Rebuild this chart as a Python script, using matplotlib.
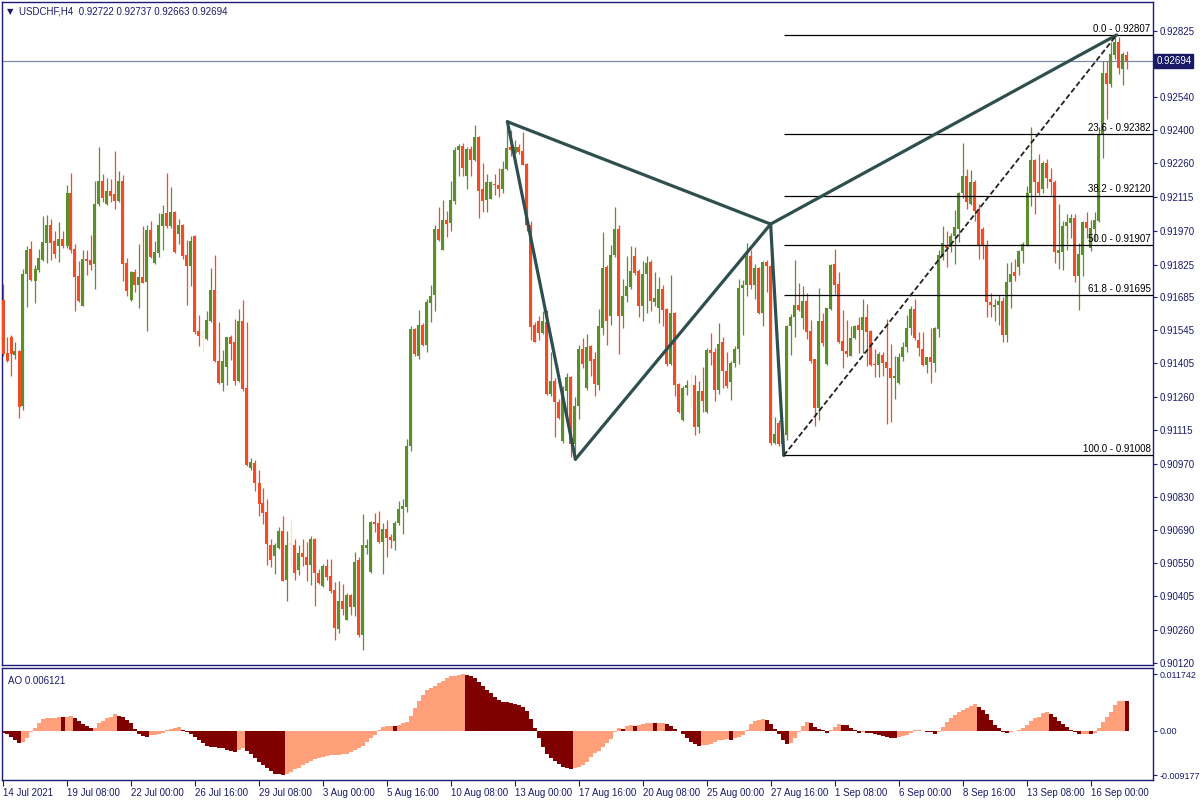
import numpy as np
import matplotlib
matplotlib.use("Agg")
import matplotlib.pyplot as plt
from matplotlib.transforms import blended_transform_factory

plt.rcParams['font.family'] = ['Liberation Sans', 'DejaVu Sans']

# ---------------- data (prices in 1e-5 units) ----------------
header_text = "USDCHF,H4  0.92722 0.92737 0.92663 0.92694"

opens_pts = [
    91673, 91446, 91513, 91439, 91453, 91219, 91786, 91891, 91755, 91800,
    91846, 91918, 91993, 91924, 91904, 91933, 91904, 92131, 91891, 91775,
    91648, 91847, 91844, 91827, 92084, 92182, 92085, 92140, 92127, 92098,
    92182, 91831, 91673, 91793, 91737, 91771, 91751, 91973, 91831, 91875,
    91989, 92045, 91989, 92049, 91956, 91993, 91866, 91818, 91949, 91540,
    91513, 91508, 91582, 91715, 91413, 91317, 91386, 91517, 91493, 91328,
    91582, 91295, 90954, 90974, 90892, 90803, 90765, 90627, 90578, 90614,
    90683, 90474, 90627, 90623, 90518, 90589, 90573, 90538, 90651, 90505,
    90451, 90536, 90491, 90433, 90266, 90387, 90306, 90409, 90360, 90560,
    90238, 90614, 90509, 90723, 90718, 90638, 90692, 90660, 90642, 90718,
    90781, 90787, 91047, 91548, 91435, 91568, 91482, 91662, 91693, 91976,
    91889, 92015, 92004, 92098, 92314, 92334, 92203, 92321, 92272, 92370,
    92147, 92102, 92107, 92171, 92165, 92147, 92234, 92329, 92303, 92329,
    92312, 92256, 91995, 91568, 91582, 91531, 91580, 91272, 91326, 91235,
    91068, 91286, 91344, 91059, 91219, 91462, 91295, 91477, 91419, 91310,
    91555, 91813, 91604, 91867, 91976, 91604, 91691, 91728, 91860, 91798,
    91646, 91786, 91835, 91664, 91640, 91722, 91635, 91399, 91619, 91314,
    91159, 91295, 91301, 91308, 91132, 91283, 91196, 91459, 91450, 91290,
    91495, 91368, 91323, 91404, 91464, 91726, 91737, 91862, 91737, 91809,
    91619, 91835, 91817, 91063, 91145, 91056, 91096, 91564, 91599, 91650,
    91595, 91668, 91540, 91419, 91210, 91582, 91401, 91635, 91827, 91740,
    91499, 91457, 91435, 91510, 91568, 91546, 91600, 91540, 91399, 91395,
    91437, 91408, 91383, 91341, 91319, 91428, 91473, 91555, 91635, 91504,
    91464, 91395, 91428, 91404, 91550, 91858, 91907, 91898, 91946, 91976,
    92131, 92203, 92085, 92180, 92058, 91976, 91907, 91664, 91644, 91650,
    91668, 91522, 91749, 91795, 91813, 91882, 91907, 92131, 92271, 92180,
    92149, 92258, 92191, 92180, 91873, 91877, 91991, 92004, 92022, 91777,
    91867, 92009, 91895, 91976, 92013, 92379, 92645, 92599, 92721, 92775,
    92661, 92722]

highs_pts = [
    91740, 91513, 91522, 91495, 91459, 91807, 91904, 91927, 91822, 91891,
    92034, 92036, 92020, 91967, 92009, 91967, 92167, 92216, 91913, 91840,
    91886, 91886, 91953, 92182, 92327, 92212, 92194, 92191, 92312, 92227,
    92209, 91855, 91798, 91804, 91913, 91989, 91995, 92013, 91927, 92044,
    92080, 92216, 92156, 92053, 92018, 92000, 91931, 91949, 91953, 91608,
    91544, 91626, 91809, 91866, 91579, 91459, 91517, 91522, 91591, 91633,
    91673, 91579, 90999, 90987, 90945, 90867, 90820, 90651, 90633, 90700,
    90747, 90683, 90738, 90651, 90623, 90651, 90638, 90665, 90654, 90524,
    90545, 90565, 90564, 90465, 90473, 90460, 90420, 90415, 90596, 90573,
    90756, 90651, 90729, 90760, 90772, 90718, 90732, 90674, 90727, 90814,
    90820, 91077, 91564, 91555, 91631, 91573, 91677, 91737, 91995, 92073,
    92100, 92054, 92182, 92327, 92340, 92343, 92327, 92331, 92421, 92376,
    92260, 92212, 92182, 92212, 92236, 92267, 92412, 92399, 92358, 92340,
    92390, 92261, 92013, 91577, 91604, 91628, 91631, 91450, 91341, 91250,
    91304, 91359, 91350, 91259, 91482, 91510, 91526, 91482, 91450, 91635,
    91964, 91822, 91907, 92071, 91995, 91762, 91860, 91904, 91900, 91804,
    91840, 91862, 91844, 91795, 91771, 91737, 91640, 91780, 91622, 91317,
    91304, 91332, 91359, 91354, 91326, 91386, 91468, 91531, 91468, 91573,
    91513, 91450, 91413, 91477, 91762, 91758, 91916, 91889, 91827, 91813,
    91840, 91846, 91998, 91172, 91159, 91105, 91568, 91613, 91846, 91744,
    91731, 91704, 91586, 91422, 91726, 91619, 91640, 91827, 91891, 91795,
    91631, 91586, 91564, 91568, 91600, 91677, 91655, 91546, 91462, 91450,
    91450, 91591, 91486, 91432, 91446, 91495, 91610, 91646, 91677, 91535,
    91535, 91428, 91555, 91559, 91886, 91989, 91967, 91962, 92058, 92134,
    92345, 92234, 92231, 92185, 92085, 91985, 91931, 91704, 91677, 91695,
    91686, 91831, 91835, 91849, 91886, 91922, 92162, 92412, 92276, 92300,
    92267, 92276, 92240, 92185, 92085, 92013, 92040, 92040, 92040, 91918,
    92013, 92049, 92016, 92049, 92412, 92694, 92694, 92775, 92807, 92797,
    92735, 92737]

lows_pts = [
    91435, 91410, 91346, 91422, 91168, 91201, 91644, 91753, 91662, 91795,
    91840, 91831, 91846, 91851, 91836, 91896, 91895, 91873, 91626, 91664,
    91646, 91780, 91800, 91722, 92074, 92094, 92080, 92091, 92062, 92094,
    91753, 91689, 91669, 91708, 91637, 91744, 91542, 91853, 91827, 91858,
    91889, 91982, 91982, 91875, 91913, 91849, 91653, 91735, 91528, 91477,
    91450, 91504, 91577, 91410, 91314, 91285, 91308, 91417, 91308, 91323,
    91283, 90963, 90945, 90856, 90749, 90714, 90538, 90533, 90502, 90609,
    90469, 90384, 90533, 90474, 90496, 90536, 90469, 90455, 90366, 90460,
    90447, 90474, 90420, 90219, 90247, 90324, 90302, 90324, 90320, 90233,
    90175, 90587, 90505, 90682, 90633, 90502, 90574, 90611, 90602, 90711,
    90674, 90765, 91028, 91435, 91422, 91477, 91450, 91580, 91626, 91927,
    91886, 91944, 91967, 92085, 92203, 92203, 92149, 92203, 92267, 92022,
    92049, 92049, 92104, 92122, 92113, 92131, 92231, 92290, 92300, 92300,
    92249, 91967, 91504, 91493, 91504, 91526, 91268, 91264, 91087, 91165,
    91063, 91168, 91000, 91014, 91165, 91383, 91290, 91346, 91263, 91290,
    91522, 91482, 91568, 91858, 91441, 91555, 91664, 91722, 91780, 91600,
    91582, 91617, 91628, 91646, 91573, 91564, 91392, 91395, 91264, 91190,
    91154, 91268, 91214, 91096, 91105, 91192, 91190, 91395, 91241, 91272,
    91295, 91295, 91246, 91386, 91401, 91522, 91689, 91722, 91677, 91613,
    91562, 91708, 91054, 91059, 91047, 91008, 91074, 91437, 91513, 91628,
    91550, 91508, 91404, 91136, 91159, 91477, 91395, 91631, 91700, 91490,
    91381, 91428, 91432, 91508, 91446, 91446, 91392, 91392, 91344, 91344,
    91346, 91141, 91150, 91250, 91314, 91413, 91450, 91522, 91501, 91435,
    91392, 91359, 91319, 91364, 91513, 91846, 91813, 91880, 91827, 91922,
    92109, 92064, 92080, 92013, 91849, 91849, 91599, 91599, 91582, 91568,
    91495, 91495, 91640, 91753, 91782, 91831, 91904, 92076, 92040, 92122,
    92131, 92153, 92122, 91831, 91804, 91800, 91886, 91940, 91749, 91631,
    91777, 91940, 91882, 91927, 92007, 92281, 92448, 92585, 92706, 92639,
    92594, 92663]

closes_pts = [
    91441, 91413, 91441, 91453, 91214, 91786, 91886, 91758, 91807, 91853,
    91920, 91993, 91918, 91869, 91933, 91904, 92131, 91889, 91773, 91668,
    91847, 91842, 91822, 92084, 92182, 92109, 92140, 92118, 92098, 92182,
    91827, 91711, 91793, 91737, 91771, 91746, 91973, 91858, 91878, 91993,
    92040, 91991, 92049, 91880, 91993, 91860, 91818, 91927, 91537, 91519,
    91513, 91586, 91715, 91413, 91317, 91412, 91513, 91486, 91328, 91582,
    91292, 90969, 90978, 90890, 90800, 90760, 90629, 90560, 90623, 90683,
    90473, 90627, 90627, 90505, 90589, 90574, 90538, 90651, 90505, 90464,
    90536, 90487, 90427, 90269, 90387, 90351, 90409, 90360, 90554, 90238,
    90623, 90623, 90723, 90714, 90638, 90692, 90654, 90647, 90720, 90781,
    90790, 91047, 91548, 91441, 91568, 91482, 91664, 91689, 91976, 91931,
    92015, 92000, 92100, 92314, 92331, 92236, 92321, 92272, 92370, 92140,
    92098, 92176, 92176, 92165, 92147, 92234, 92325, 92316, 92327, 92307,
    92252, 91995, 91559, 91495, 91531, 91582, 91272, 91326, 91235, 91168,
    91295, 91344, 91059, 91219, 91462, 91401, 91471, 91413, 91314, 91562,
    91809, 91582, 91867, 91976, 91604, 91691, 91731, 91798, 91789, 91646,
    91786, 91831, 91671, 91682, 91722, 91631, 91399, 91619, 91308, 91196,
    91295, 91308, 91301, 91132, 91283, 91241, 91459, 91446, 91290, 91486,
    91368, 91304, 91404, 91464, 91726, 91737, 91862, 91737, 91809, 91619,
    91835, 91817, 91063, 91099, 91056, 91101, 91564, 91600, 91650, 91631,
    91668, 91535, 91413, 91210, 91582, 91490, 91637, 91822, 91737, 91495,
    91453, 91441, 91510, 91564, 91546, 91600, 91537, 91395, 91395, 91441,
    91404, 91381, 91341, 91346, 91428, 91473, 91555, 91635, 91510, 91468,
    91395, 91428, 91408, 91553, 91867, 91918, 91895, 91946, 91985, 92131,
    92203, 92094, 92176, 92053, 91904, 91907, 91664, 91650, 91653, 91668,
    91522, 91749, 91786, 91777, 91882, 91913, 92131, 92271, 92176, 92131,
    92258, 92194, 92176, 91880, 91886, 91991, 92009, 92022, 91777, 91871,
    92009, 91980, 91980, 92016, 92379, 92645, 92599, 92725, 92775, 92666,
    92725, 92694]

# Awesome Oscillator values (1e-5 units)
ao_pts = [
    -41, -55, -131, -180, -249, -235, -152, -14, 69, 159,
    242, 263, 269, 276, 290, 287, 297, 301, 263, 207,
    152, 97, 55, 69, 159, 207, 263, 290, 346, 318,
    283, 228, 159, 41, -62, -97, -131, -90, -83, -55,
    -35, 21, 48, 62, 76, 14, -28, -62, -117, -193,
    -256, -304, -325, -339, -346, -359, -387, -408, -442, -401,
    -359, -408, -484, -567, -636, -705, -774, -822, -884, -898,
    -918, -884, -843, -795, -760, -712, -670, -629, -587, -553,
    -539, -518, -504, -498, -494, -484, -477, -442, -394, -359,
    -311, -235, -152, -83, 14, 76, 97, 104, 97, 124,
    159, 193, 318, 470, 622, 746, 843, 891, 940, 988,
    1030, 1092, 1133, 1147, 1168, 1174, 1154, 1133, 1106, 1023,
    940, 850, 781, 698, 636, 601, 594, 580, 560, 539,
    491, 415, 242, 55, -152, -339, -484, -567, -622, -684,
    -746, -774, -788, -774, -746, -705, -636, -539, -463, -415,
    -339, -256, -166, -28, 55, 48, 97, 117, 97, 117,
    138, 159, 166, 162, 166, 169, 138, 97, 41, -7,
    -69, -152, -228, -276, -311, -290, -283, -263, -228, -193,
    -180, -173, -187, -152, -117, -90, 28, 138, 207, 228,
    242, 238, 138, 48, -69, -187, -276, -256, -152, -28,
    111, 180, 173, 90, 41, 21, -35, 14, 90, 138,
    117, 114, 69, 14, -35, -31, -41, -45, -55, -76,
    -104, -124, -145, -149, -131, -104, -76, -41, 14, 17,
    7, -21, -28, -62, -14, 76, 180, 263, 332, 387,
    442, 484, 525, 553, 504, 428, 346, 221, 117, 55,
    -14, -41, -28, -7, 28, 69, 124, 200, 263, 297,
    366, 394, 346, 290, 214, 138, 76, 14, -14, -62,
    -59, -55, -62, -35, 55, 180, 283, 400, 540, 612,
    632, 612]
ao_label = "AO 0.006121"

date_labels = ["14 Jul 2021", "19 Jul 08:00", "22 Jul 00:00", "26 Jul 16:00",
               "29 Jul 08:00", "3 Aug 00:00", "5 Aug 16:00", "10 Aug 08:00",
               "13 Aug 00:00", "17 Aug 16:00", "20 Aug 08:00", "25 Aug 00:00",
               "27 Aug 16:00", "1 Sep 08:00", "6 Sep 00:00", "8 Sep 16:00",
               "13 Sep 08:00", "16 Sep 00:00"]
date_bar_index = [0, 16, 32, 48, 64, 80, 96, 112, 128, 144, 160, 176,
                  192, 208, 224, 240, 256, 272]

price_ticks = [0.92825, 0.92540, 0.92400, 0.92260, 0.92115, 0.91970,
               0.91825, 0.91685, 0.91545, 0.91405, 0.91260, 0.91115,
               0.90970, 0.90830, 0.90690, 0.90550, 0.90405, 0.90260, 0.90120]
ao_ticks = [0.011742, 0.0, -0.009177]
ao_tick_labels = ["0.011742", "0.00", "-0.009177"]

current_price = 0.92694

fib_ratio_labels = ["0.0", "23.6", "38.2", "50.0", "61.8", "100.0"]
fib_prices = [0.92807, 0.92382, 0.92120, 0.91907, 0.91695, 0.91008]

# harmonic pattern points X, A, B, C, D (bar index, price)
pattern_idx = [126.1, 143.1, 191.9, 195.2, 278.4]
pattern_price = [0.92436, 0.90992, 0.91998, 0.91008, 0.92807]
pattern_segments = [(0, 1), (1, 2), (2, 3), (0, 2), (2, 4)]

# ---------------- styling ----------------
UP = "#5b8f2a"
DOWN = "#f24c25"
DOJI = "#fbe1d1"
AO_UP = "#ffa07a"
AO_DOWN = "#800000"
FRAME = "#1c1c78"
TXT = "#1a1a6a"
PATTERN = "#2f4f4f"

W, H = 1200, 800
fig = plt.figure(figsize=(12, 8), dpi=100)
ax = fig.add_axes([2 / W, 1 - 665 / H, 1151 / W, 663 / H])
ax2 = fig.add_axes([2 / W, 1 - 780 / H, 1151 / W, 112 / H])

o = np.array(opens_pts) / 1e5
h = np.array(highs_pts) / 1e5
l = np.array(lows_pts) / 1e5
c = np.array(closes_pts) / 1e5
n = len(o)
idx = np.arange(n)

px = 0.0000428  # price per pixel
colors = [UP if cc > oo else (DOWN if cc < oo else DOJI) for oo, cc in zip(o, c)]

ax.vlines(idx, l, h, colors=colors, linewidth=0.9, zorder=2)
body_bottom = np.minimum(o, c)
body_h = np.maximum(np.abs(c - o), px * 1.2)
ax.bar(idx, body_h, bottom=body_bottom, width=0.75, color=colors,
       linewidth=0, zorder=3)

ax.set_xlim(-0.25, 287.5)
ax.set_ylim(0.901116, 0.929482)

# current price line
ax.axhline(current_price, color="#7a8aa0", linewidth=0.9, zorder=1)

# fibonacci levels
x_fib0 = pattern_idx[3]
ax.hlines(fib_prices, x_fib0, 287.5, colors="black", linewidth=0.9, zorder=4)
for lab, p in zip(fib_ratio_labels, fib_prices):
    ax.text(286.9, p + px * 1.2, f"{lab} - {p:.5f}", ha="right", va="bottom",
            fontsize=7, color="black", zorder=6)

# pattern lines
for a, b in pattern_segments:
    ax.plot([pattern_idx[a], pattern_idx[b]],
            [pattern_price[a], pattern_price[b]],
            color=PATTERN, linewidth=2.3, solid_capstyle="round", zorder=5)
# fibonacci trend line (dashed)
ax.plot([pattern_idx[3], pattern_idx[4]], [pattern_price[3], pattern_price[4]],
        color="#222222", linewidth=1.3, linestyle=(0, (3, 1.5)), zorder=5)

# axes styling main
ax.yaxis.tick_right()
ax.set_yticks(price_ticks)
ax.set_yticklabels([f"{t:.5f}" for t in price_ticks])
ax.tick_params(axis="y", length=3, width=0.8, color=FRAME, labelsize=7,
               labelcolor=TXT, pad=2)
ax.set_xticks([])
for sp in ax.spines.values():
    sp.set_color(FRAME)
    sp.set_linewidth(1.0)

# header
ax.text(0.0045, 0.986, "\u25bc", transform=ax.transAxes, fontsize=6,
        color=TXT, va="center", ha="left", family=["DejaVu Sans"])
ax.text(0.0145, 0.986, header_text, transform=ax.transAxes, fontsize=7,
        color=TXT, va="center", ha="left")

# current price label
tr = blended_transform_factory(ax.transAxes, ax.transData)
ax.text(1.0028, current_price, f"{current_price:.5f}", transform=tr,
        fontsize=7, color="white", va="center", ha="left", zorder=10,
        clip_on=False,
        bbox=dict(boxstyle="square,pad=0.2", fc="#191966", ec="#191966"))

# ---------------- AO panel ----------------
ao = np.array(ao_pts) / 1e5
ao_colors = [AO_DOWN] + [AO_UP if ao[i] > ao[i - 1] else AO_DOWN
                         for i in range(1, len(ao))]
ax2.bar(np.arange(len(ao)), ao, width=1.0, color=ao_colors, linewidth=0)
ax2.set_xlim(-0.25, 287.5)
ax2.set_ylim(-0.01016, 0.01306)
ax2.yaxis.tick_right()
ax2.set_yticks(ao_ticks)
ax2.set_yticklabels(ao_tick_labels)
ax2.tick_params(axis="y", length=3, width=0.8, color=FRAME, labelsize=6.5,
                labelcolor=TXT, pad=1.5)
ax2.set_xticks(date_bar_index)
ax2.set_xticklabels(date_labels)
for t in ax2.get_xticklabels():
    t.set_horizontalalignment("left")
ax2.tick_params(axis="x", length=4, width=0.8, color=FRAME, labelsize=7,
                labelcolor=TXT, pad=1.5)
for sp in ax2.spines.values():
    sp.set_color(FRAME)
    sp.set_linewidth(1.0)
ax2.text(0.005, 0.93, ao_label, transform=ax2.transAxes, fontsize=7,
         color=TXT, va="top", ha="left")

fig.savefig("out.png", dpi=100, facecolor="white")
